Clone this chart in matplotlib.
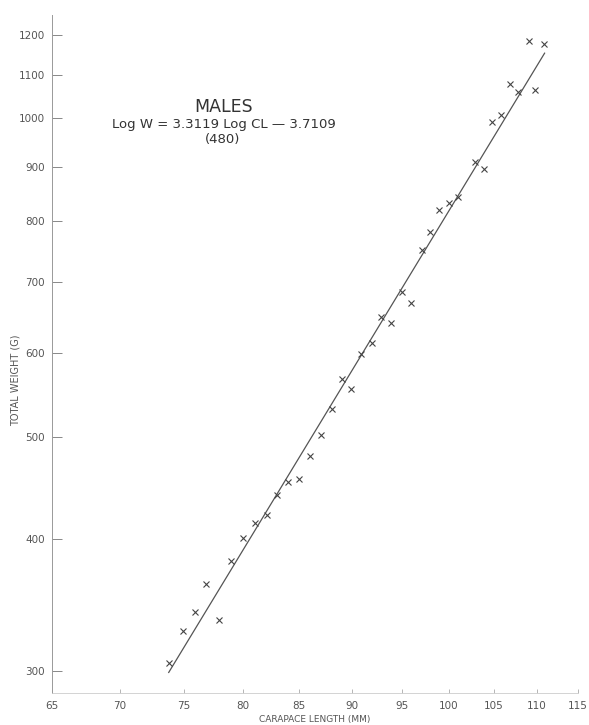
import numpy as np
import matplotlib
matplotlib.use("Agg")
import matplotlib.pyplot as plt
from matplotlib.ticker import FixedLocator, NullLocator

# carapace length (mm) and total weight (g)
cl = [73.8, 74.95, 75.9, 76.85, 77.9, 78.96, 80.0, 81.04, 82.1, 83.0,
      84.0, 85.0, 86.0, 87.05, 88.1, 89.05, 89.9, 90.9, 92.0, 92.9,
      93.9, 95.0, 95.96, 97.1, 97.95, 98.9, 100.0, 100.97, 102.85, 103.86,
      104.76, 105.8, 106.8, 107.75, 109.05, 109.76, 110.83]
wt = [305.3, 327.3, 341.2, 362.6, 335.2, 381.2, 400.8, 414.1, 421.4, 440.2,
      452.8, 455.8, 479.2, 501.6, 530.8, 566.7, 554.5, 598.4, 612.9, 648.6,
      640.2, 684.9, 668.7, 750.6, 780.6, 818.9, 831.5, 842.4, 909.3, 895.5,
      992.0, 1007.3, 1077.9, 1059.3, 1183.4, 1063.9, 1175.7]

# regression: log W = 3.3119 log CL - 3.7109
slope = 3.3119
icept = -3.7109
line_cl = [73.8, 110.9]

xticks = [65, 70, 75, 80, 85, 90, 95, 100, 105, 110, 115]
yticks = [300, 400, 500, 600, 700, 800, 900, 1000, 1100, 1200]

fig = plt.figure(figsize=(5.89, 7.25), dpi=100)
ax = fig.add_axes([0.0875, 0.044, 0.894, 0.935])
ax.set_xscale("log")
ax.set_yscale("log")
ax.set_xlim(65, 115)
ax.set_ylim(286, 1252)

lx = np.array(line_cl)
ly = 10 ** (slope * np.log10(lx) + icept)
ax.plot(lx, ly, color="#555555", lw=0.9)
ax.plot(cl, wt, "x", color="#444444", ms=4, mew=0.8)

ax.xaxis.set_major_locator(FixedLocator(xticks))
ax.xaxis.set_minor_locator(NullLocator())
ax.set_xticklabels([str(t) for t in xticks])
ax.yaxis.set_major_locator(FixedLocator(yticks))
ax.yaxis.set_minor_locator(NullLocator())
ax.set_yticklabels([str(t) for t in yticks])

ax.tick_params(axis="y", direction="in", length=7, width=0.7, color="#888888",
               labelsize=7.5, labelcolor="#555555", pad=5)
ax.tick_params(axis="x", direction="in", length=3, width=0.6, color="#aaaaaa",
               labelsize=7.5, labelcolor="#555555", pad=6)

for s in ["top", "right"]:
    ax.spines[s].set_visible(False)
ax.spines["left"].set_color("#999999")
ax.spines["left"].set_linewidth(0.7)
ax.spines["bottom"].set_color("#cccccc")
ax.spines["bottom"].set_linewidth(0.6)

fig.text(0.535, 0.007, "CARAPACE LENGTH (MM)", ha="center", va="center",
         fontsize=6.5, color="#555555")
fig.text(0.026, 0.476, "TOTAL WEIGHT (G)", rotation=90, ha="center", va="center",
         fontsize=7, color="#555555")

ax.text(0.326, 0.864, "MALES", transform=ax.transAxes, ha="center", va="center",
        fontsize=12.5, color="#333333")
ax.text(0.328, 0.839, "Log W = 3.3119 Log CL \u2014 3.7109", transform=ax.transAxes,
        ha="center", va="center", fontsize=9.5, color="#333333")
ax.text(0.325, 0.816, "(480)", transform=ax.transAxes, ha="center", va="center",
        fontsize=9.5, color="#333333")

fig.savefig("out.png", dpi=100)
